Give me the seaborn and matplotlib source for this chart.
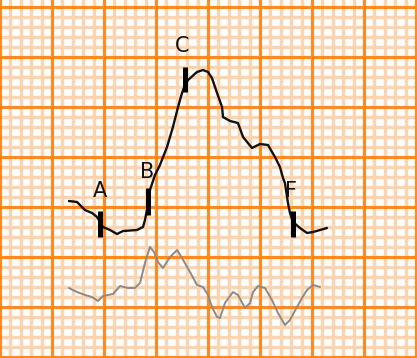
import matplotlib
matplotlib.use("Agg")
import matplotlib.pyplot as plt
from matplotlib.ticker import MultipleLocator, NullLocator
import seaborn as sns
import pandas as pd

# Values in small-box units (1 small box of ECG paper)
black_t = [6.63, 7.40, 8.17, 8.85, 9.33, 9.62, 9.90, 10.58, 11.25, 11.83, 13.17, 13.75,
           13.94, 14.23, 14.42, 14.90, 15.38, 16.06, 16.63, 17.12, 17.50, 17.79, 18.08,
           18.94, 19.52, 20.00, 20.38, 20.87, 21.35, 21.44, 22.12, 22.88, 23.37, 24.23,
           25.00, 25.77, 26.44, 26.92, 27.21, 27.40, 27.69, 27.88, 28.17, 28.85, 29.52,
           30.10, 31.44]
black_v = [15.6, 15.5, 14.7, 14.4, 14.0, 13.5, 13.0, 12.7, 12.3, 12.6, 12.7, 13.0,
           13.7, 15.2, 16.7, 18.2, 19.2, 21.0, 23.0, 25.0, 26.4, 27.2, 27.7,
           28.5, 28.7, 28.5, 27.9, 26.4, 25.0, 24.0, 23.6, 23.4, 22.0, 20.9,
           21.3, 21.2, 20.0, 19.0, 17.9, 17.4, 15.4, 14.4, 13.5, 12.9, 12.4,
           12.5, 12.9]

gray_t = [6.63, 7.40, 8.17, 8.85, 9.42, 9.90, 10.87, 11.54, 12.31, 12.98, 13.46, 13.94,
          14.42, 14.81, 15.19, 15.67, 16.35, 17.02, 17.50, 18.27, 18.94, 19.52, 20.00,
          20.38, 20.87, 21.15, 21.63, 22.40, 22.88, 23.56, 24.04, 24.33, 24.81, 25.48,
          26.15, 26.73, 27.40, 27.88, 28.56, 29.04, 29.52, 30.10, 30.77]
gray_v = [6.9, 6.5, 6.2, 6.0, 5.6, 6.1, 6.3, 7.1, 6.9, 6.9, 7.4, 9.4,
          11.0, 10.5, 9.5, 8.9, 10.0, 10.7, 9.9, 8.5, 7.2, 7.0, 6.2,
          5.0, 4.0, 3.9, 5.4, 6.5, 6.2, 4.9, 5.4, 6.5, 7.1, 6.9,
          5.7, 4.4, 3.2, 3.7, 5.0, 5.9, 6.7, 7.2, 7.0]

mark_labels = ["A", "B", "C", "F"]
mark_t = [9.62, 14.23, 17.79, 28.17]
mark_lo = [12.0, 14.2, 26.5, 12.0]
mark_hi = [14.6, 16.9, 29.0, 14.6]
label_t = [9.6, 14.1, 17.5, 28.0]
label_v = [16.6, 18.5, 31.1, 16.6]

sns.set_style("white")

XLIM = (0, 417 / 10.4)
YLIM = (-0.1, 35.7)

fig = plt.figure(figsize=(4.17, 3.58), dpi=100)

def paper_axes(step, color, lw, z):
    a = fig.add_axes([0, 0, 1, 1], zorder=z)
    a.set_xlim(*XLIM)
    a.set_ylim(*YLIM)
    a.xaxis.set_major_locator(MultipleLocator(step))
    a.yaxis.set_major_locator(MultipleLocator(step))
    a.xaxis.set_minor_locator(NullLocator())
    a.yaxis.set_minor_locator(NullLocator())
    a.grid(True, which="major", color=color, lw=lw)
    a.tick_params(which="both", length=0, labelbottom=False, labelleft=False)
    a.patch.set_alpha(0.0)
    for s in a.spines.values():
        s.set_visible(False)
    return a

bg = paper_axes(1, "#fdd4b0", 2.4, 0)
bg.patch.set_facecolor("white")
bg.patch.set_alpha(1.0)
ax = paper_axes(5, "#ff8a24", 2.2, 1)
ax.set_axisbelow(True)

df_black = pd.DataFrame({"t": black_t, "v": black_v})
df_gray = pd.DataFrame({"t": gray_t, "v": gray_v})

sns.lineplot(data=df_gray, x="t", y="v", ax=ax, color="#8a8a8a", lw=1.4,
             estimator=None, sort=False, zorder=3)
sns.lineplot(data=df_black, x="t", y="v", ax=ax, color="#111111", lw=1.7,
             estimator=None, sort=False, zorder=4)

ax.vlines(mark_t, mark_lo, mark_hi, color="black", lw=3.6, zorder=5)
for lab, x, y in zip(mark_labels, label_t, label_v):
    ax.text(x, y, lab, ha="center", va="center", fontsize=15, color="#111111",
            family="DejaVu Sans", zorder=6)

ax.set_xlim(*XLIM)
ax.set_ylim(*YLIM)
ax.set_xlabel("")
ax.set_ylabel("")

fig.savefig("out.png", dpi=100)
